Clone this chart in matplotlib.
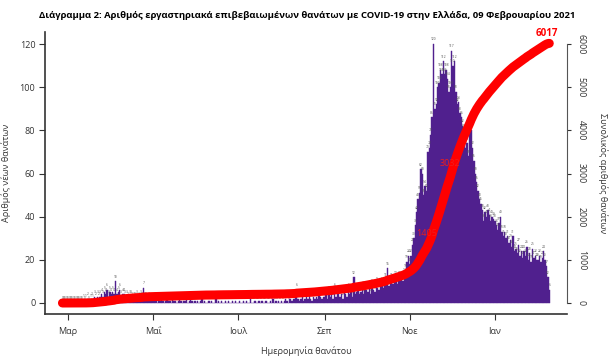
import matplotlib.pyplot as plt
import numpy as np
import pandas as pd

plt.rcParams["font.family"] = ["Open Sans", "DejaVu Sans"]

# daily confirmed deaths by date of death, 26 Feb 2020 - 09 Feb 2021
feb20 = [0, 0, 0, 0]
mar20 = [0, 0, 0, 0, 0, 0, 0, 0, 0, 0, 0,
         1, 0, 1, 2, 0, 1, 2, 1, 3, 2, 3, 2, 3, 4, 3, 5, 4, 6, 3, 5]
apr20 = [4, 5, 4, 10, 4, 5, 6, 3, 4, 4, 3, 3, 2, 3, 3, 2, 2, 2, 3, 1,
         2, 3, 2, 7, 2, 2, 1, 2, 1, 1]
may20 = [1, 2, 1, 0, 2, 1, 2, 1, 0, 1, 2, 1, 1, 0, 2, 1, 1, 0, 1, 2,
         1, 0, 1, 1, 2, 0, 1, 2, 1, 0, 1]
jun20 = [0, 1, 0, 1, 2, 0, 1, 0, 0, 1, 0, 1, 0, 0, 2, 0, 1, 0, 1, 0,
         0, 1, 0, 1, 0, 0, 1, 0, 1, 0]
jul20 = [0, 1, 0, 0, 1, 0, 1, 0, 0, 2, 0, 0, 1, 0, 0, 1, 0, 1, 0, 0,
         1, 0, 0, 1, 0, 2, 0, 1, 0, 1, 0]
aug20 = [1, 0, 1, 2, 1, 0, 2, 1, 1, 2, 3, 6, 2, 1, 2, 3, 1, 2, 3, 2,
         4, 2, 1, 3, 2, 3, 2, 4, 3, 2, 3]
sep20 = [3, 4, 2, 5, 3, 4, 2, 6, 3, 4, 5, 3, 4, 2, 5, 4, 3, 6, 4, 5,
         3, 12, 4, 5, 6, 4, 5, 7, 4, 6]
oct20 = [6, 5, 7, 4, 8, 6, 5, 9, 7, 6, 8, 9, 7, 9, 11, 16, 8, 10, 11, 9,
         10, 12, 9, 11, 12, 11, 10, 13, 15, 19, 22]
nov20 = [18, 22, 27, 30, 36, 42, 48, 51, 62, 60, 50, 54, 52, 70, 72,
         78, 86, 120, 90, 92, 100, 102, 108, 106, 112, 106, 108, 104, 98, 100]
dec20 = [117, 110, 112, 98, 92, 93, 88, 86, 82, 80, 72, 74, 68, 80, 80,
         72, 66, 60, 56, 52, 48, 46, 43, 38, 42, 40, 43, 41, 38, 40, 39]
jan21 = [38, 36, 34, 37, 40, 33, 31, 33, 30, 31, 28, 29, 26, 31, 24,
         25, 23, 27, 22, 24, 21, 24, 22, 26, 20, 23, 19, 25, 21, 22, 20]
feb21 = [20, 22, 19, 21, 24, 20, 17, 12, 6]

daily = feb20 + mar20 + apr20 + may20 + jun20 + jul20 + aug20 + sep20 + oct20 + nov20 + dec20 + jan21 + feb21
dates = pd.date_range("2020-02-26", periods=len(daily), freq="D")
cum = np.cumsum(daily)

marked_days = ["2020-11-15", "2020-12-01"]
tick_days = ["2020-03-01", "2020-05-01", "2020-07-01", "2020-09-01", "2020-11-01", "2021-01-01"]
tick_names = ["Μαρ", "Μαΐ", "Ιουλ", "Σεπ", "Νοε", "Ιαν"]

fig = plt.figure(figsize=(6.15, 3.59), dpi=100)
ax = fig.add_axes([45/615, 1-314/359, 522/615, 282/359])

ax.bar(dates, daily, width=1.0, color="#50208e", edgecolor="#50208e", linewidth=0.3)
for d, v in zip(dates, daily):
    ax.text(d, v + 1.2, str(v), fontsize=2.3, color="#555555", ha="center", va="bottom")

ax.set_ylim(-5.1, 125.6)
ax.set_xlim(dates[0] - pd.Timedelta(days=12.5), dates[0] + pd.Timedelta(days=361.7))
ax.set_yticks([0, 20, 40, 60, 80, 100, 120])
ax.set_xticks(pd.to_datetime(tick_days))
ax.set_xticklabels(tick_names)
ax.spines["top"].set_visible(False)
ax.spines["right"].set_visible(False)
for s in ["left", "bottom"]:
    ax.spines[s].set_color("#333333")
    ax.spines[s].set_linewidth(1.2)
ax.tick_params(axis="both", labelsize=6.5, colors="#333333", length=4, width=0.8, pad=3)
ax.tick_params(axis="x", pad=5)
ax.set_ylabel("Αριθμός νέων θανάτων", fontsize=6.5, color="#333333", labelpad=6)
ax.set_xlabel("Ημερομηνία θανάτου", fontsize=6.5, color="#333333", labelpad=8)

ax2 = ax.twinx()
ax2.plot(dates, cum, color="#ff0000", lw=6.5, solid_capstyle="round")
ax2.set_ylim(-255, 6280)
ax2.set_yticks([0, 1000, 2000, 3000, 4000, 5000, 6000])
for s in ["top", "left", "bottom"]:
    ax2.spines[s].set_visible(False)
ax2.spines["right"].set_bounds(0, 6000)
ax2.spines["right"].set_color("#555555")
ax2.tick_params(axis="y", labelsize=6.3, colors="#333333", length=3, width=0.8, pad=4, labelrotation=-90)
for lab in ax2.get_yticklabels():
    lab.set_va("center")
ax2.set_ylabel("Συνολικός αριθμός θανάτων", fontsize=6.5, color="#333333", rotation=270, labelpad=16)

for md, shift in zip(marked_days, [2, 1]):
    i = dates.get_loc(pd.Timestamp(md))
    ax2.text(dates[i] - pd.Timedelta(days=shift), cum[i] + 200, str(cum[i]), color="#ee1c1c",
             fontsize=6.5, ha="center", va="center")
ax2.text(dates[-1] - pd.Timedelta(days=2), cum[-1] + 110, str(cum[-1]), color="#ff0000",
         fontsize=7, fontweight="bold", ha="center", va="bottom")

fig.text(0.5, 1-16/359, "Διάγραμμα 2: Αριθμός εργαστηριακά επιβεβαιωμένων θανάτων με COVID-19 στην Ελλάδα, 09 Φεβρουαρίου 2021",
         ha="center", va="center", fontsize=6.8, fontweight="bold")

fig.savefig("out.png", dpi=100)
